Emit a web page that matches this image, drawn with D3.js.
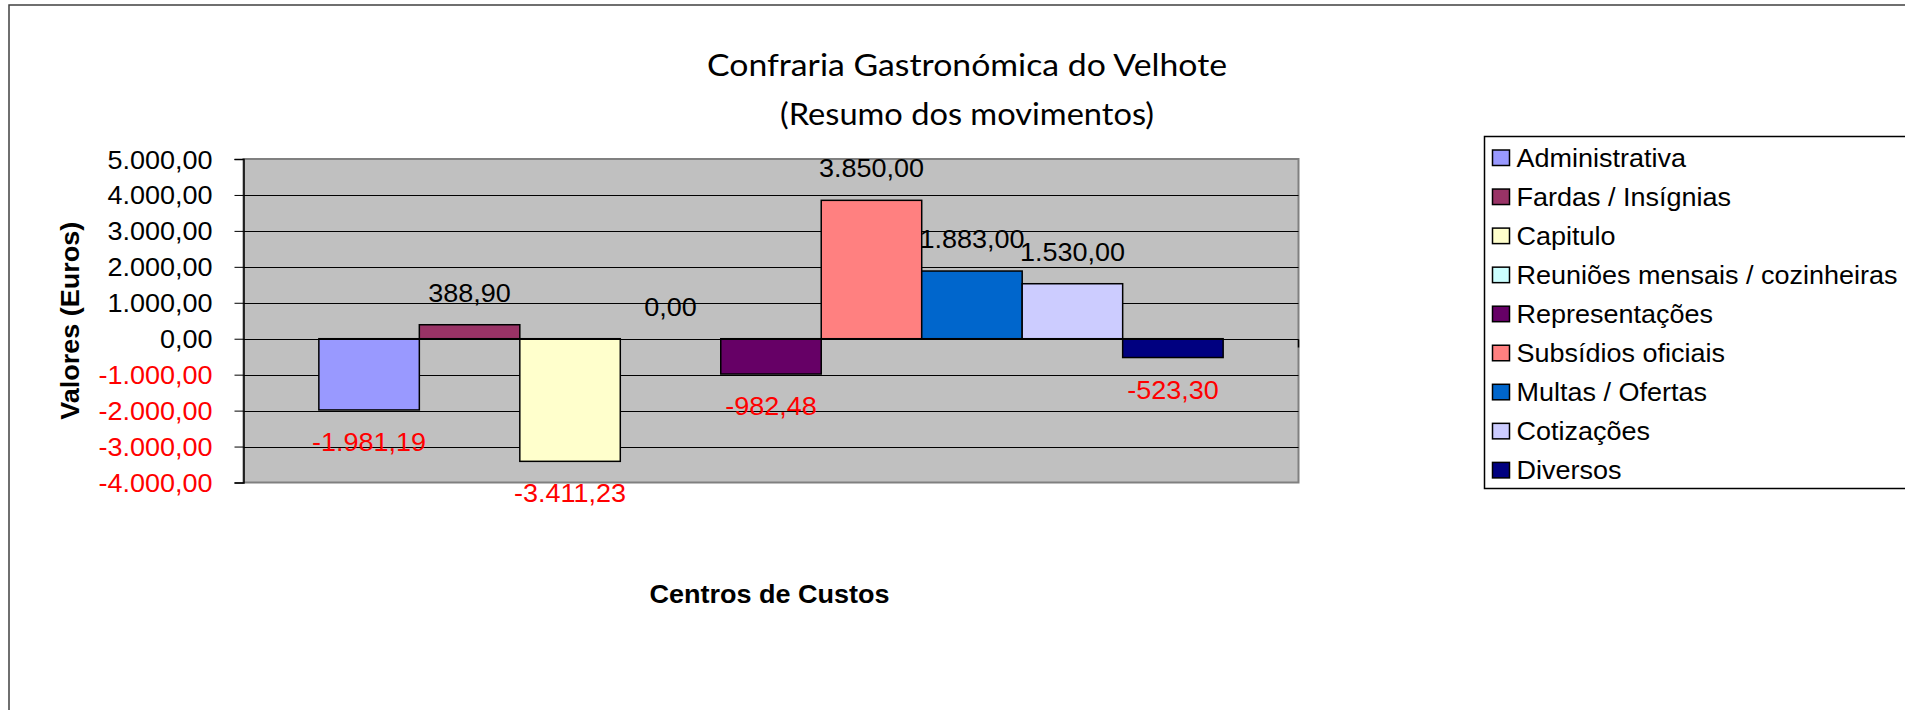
<!DOCTYPE html>
<html>
<head>
<meta charset="utf-8">
<script src="https://cdn.jsdelivr.net/npm/d3@7"></script>
<style>
  body { margin: 0; background: #fff; overflow: hidden; }
  svg { display: block; }
  text { font-family: "Liberation Sans", Arial, sans-serif; }
</style>
</head>
<body>
<div id="chart"></div>
<script>
// Centros de custos (one bar each)
var series = [
  "Administrativa",
  "Fardas / Insígnias",
  "Capitulo",
  "Reuniões mensais / cozinheiras",
  "Representações",
  "Subsídios oficiais",
  "Multas / Ofertas",
  "Cotizações",
  "Diversos"
];

// Values (Euros)
var values = [-1981.19, 388.90, -3411.23, 0.00, -982.48, 3850.00, 1883.00, 1530.00, -523.30];

// Bar colours
var colors = ["#9999FF", "#993366", "#FFFFCC", "#CCFFFF", "#660066", "#FF8080", "#0066CC", "#CCCCFF", "#000080"];

// Value axis ticks
var yTicks = [5000, 4000, 3000, 2000, 1000, 0, -1000, -2000, -3000, -4000];

// Titles
var titleLines = ["Confraria Gastronómica do Velhote", "(Resumo dos movimentos)"];
var yTitle = "Valores (Euros)";
var xTitle = "Centros de Custos";

// Page size
var width = 1905;
var height = 710;

// Plot area
var plotLeft = 243.5;
var plotRight = 1298.5;
var plotTop = 159;
var plotBottom = 482.5;

// Text stretch (original text is a bit wider than Arial)
var stretch = 1.08;
var fontSize = 25;

var svg = d3.select("#chart")
  .append("svg")
  .attr("width", width)
  .attr("height", height);

// Portuguese number format
var pt = d3.formatLocale({
  decimal: ",",
  thousands: ".",
  grouping: [3],
  currency: ["", " €"],
  minus: "-"
});
var fmt = pt.format(",.2f");

// Outer chart border (runs off the page right and bottom)
svg.append("rect")
  .attr("x", 9)
  .attr("y", 5)
  .attr("width", 2000)
  .attr("height", 800)
  .attr("fill", "#fff")
  .attr("stroke", "#404040")
  .attr("stroke-width", 1.5);

// Scales
var yScale = d3.scaleLinear()
  .domain([d3.min(yTicks), d3.max(yTicks)])
  .range([plotBottom, plotTop]);

var xScale = d3.scaleBand()
  .domain(series)
  .range([plotLeft, plotRight])
  .paddingInner(0)
  .paddingOuter(0.75);

// Plot background
svg.append("rect")
  .attr("x", plotLeft)
  .attr("y", plotTop)
  .attr("width", plotRight - plotLeft)
  .attr("height", plotBottom - plotTop)
  .attr("fill", "#C0C0C0")
  .attr("stroke", "#808080")
  .attr("stroke-width", 2);

// Gridlines
svg.append("g")
  .selectAll("line")
  .data(yTicks.filter(function(d) { return d !== d3.max(yTicks) && d !== d3.min(yTicks); }))
  .enter()
  .append("line")
  .attr("x1", plotLeft)
  .attr("x2", plotRight)
  .attr("y1", function(d) { return Math.round(yScale(d)) + 0.5; })
  .attr("y2", function(d) { return Math.round(yScale(d)) + 0.5; })
  .attr("stroke", "#000")
  .attr("stroke-width", 1);

// Bars
svg.append("g")
  .selectAll("rect")
  .data(values)
  .enter()
  .append("rect")
  .attr("x", function(d, i) { return xScale(series[i]); })
  .attr("y", function(d) { return yScale(Math.max(0, d)); })
  .attr("width", xScale.bandwidth())
  .attr("height", function(d) { return Math.abs(yScale(d) - yScale(0)); })
  .attr("fill", function(d, i) { return colors[i]; })
  .attr("stroke", "#000")
  .attr("stroke-width", 1.5);

// Category axis line at zero, with end tick
var zeroY = Math.round(yScale(0)) + 0.5;
svg.append("line")
  .attr("x1", plotLeft)
  .attr("x2", plotRight)
  .attr("y1", zeroY)
  .attr("y2", zeroY)
  .attr("stroke", "#000");
svg.append("line")
  .attr("x1", plotRight)
  .attr("x2", plotRight)
  .attr("y1", zeroY)
  .attr("y2", zeroY + 8)
  .attr("stroke", "#000")
  .attr("stroke-width", 1.5);

// Value axis
var yAxis = d3.axisLeft(yScale)
  .tickValues(yTicks)
  .tickSize(9)
  .tickPadding(22)
  .tickFormat(fmt);

var yAxisG = svg.append("g")
  .attr("transform", "translate(" + plotLeft + ",0)")
  .call(yAxis);

yAxisG.select(".domain").attr("stroke", "#000").attr("stroke-width", 1.5);
yAxisG.selectAll(".tick line").attr("stroke", "#000");
yAxisG.selectAll(".tick text")
  .attr("font-family", "Liberation Sans, Arial, sans-serif")
  .attr("font-size", fontSize)
  .attr("dy", "0.36em")
  .attr("x", null)
  .attr("transform", "translate(-31,0) scale(" + stretch + ",1)")
  .attr("fill", function(d) { return d < 0 ? "#FF0000" : "#000"; });

// Data labels
svg.append("g")
  .selectAll("text")
  .data(values)
  .enter()
  .append("text")
  .attr("transform", function(d, i) {
    var cx = xScale(series[i]) + xScale.bandwidth() / 2;
    var cy = d < 0 ? yScale(d) + 41 : yScale(d) - 23;
    return "translate(" + cx + "," + cy + ") scale(" + stretch + ",1)";
  })
  .attr("text-anchor", "middle")
  .attr("font-size", fontSize)
  .attr("fill", function(d) { return d < 0 ? "#FF0000" : "#000"; })
  .text(function(d) { return fmt(d); });

// Chart title
svg.append("g")
  .selectAll("text")
  .data(titleLines)
  .enter()
  .append("text")
  .attr("x", 967)
  .attr("y", function(d, i) { return i === 0 ? 76 : 125; })
  .attr("text-anchor", "middle")
  .style("font-family", "Lato, sans-serif")
  .attr("font-size", 31)
  .attr("textLength", function(d, i) { return i === 0 ? 520 : 374; })
  .attr("lengthAdjust", "spacingAndGlyphs")
  .text(function(d) { return d; });

// Y axis title
svg.append("text")
  .attr("transform", "translate(79," + ((plotTop + plotBottom) / 2) + ") rotate(-90) scale(" + stretch + ",1)")
  .attr("text-anchor", "middle")
  .attr("font-size", fontSize)
  .attr("font-weight", "bold")
  .text(yTitle);

// X axis title
svg.append("text")
  .attr("transform", "translate(769.5,603) scale(" + stretch + ",1)")
  .attr("text-anchor", "middle")
  .attr("font-size", fontSize)
  .attr("font-weight", "bold")
  .text(xTitle);

// Legend
var legendX = 1484.5;
var legendTop = 136.5;
var legendRow = 39.05;

svg.append("rect")
  .attr("x", legendX)
  .attr("y", legendTop)
  .attr("width", 600)
  .attr("height", 352)
  .attr("fill", "#fff")
  .attr("stroke", "#000")
  .attr("stroke-width", 1.5);

var legend = svg.append("g")
  .selectAll("g")
  .data(series)
  .enter()
  .append("g")
  .attr("transform", function(d, i) {
    return "translate(" + legendX + "," + (legendTop + 21 + i * legendRow) + ")";
  });

legend.append("rect")
  .attr("x", 8)
  .attr("y", -7.5)
  .attr("width", 17)
  .attr("height", 15.5)
  .attr("fill", function(d, i) { return colors[i]; })
  .attr("stroke", "#000")
  .attr("stroke-width", 1.5);

legend.append("text")
  .attr("transform", "translate(32,9.5) scale(" + stretch + ",1)")
  .attr("font-size", fontSize)
  .text(function(d) { return d; });
</script>
</body>
</html>
